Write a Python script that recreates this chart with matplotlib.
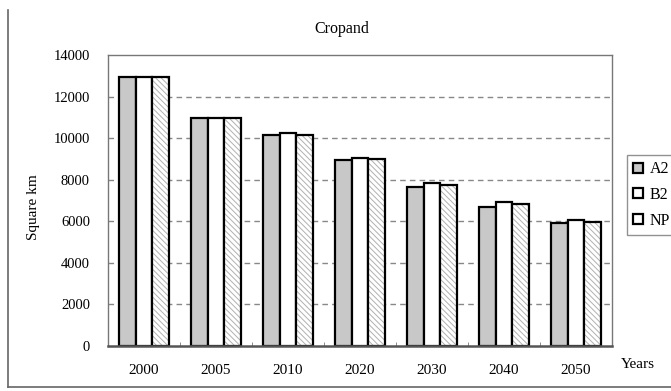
import numpy as np
import matplotlib.pyplot as plt
from matplotlib.lines import Line2D

# Data
years = ["2000", "2005", "2010", "2020", "2030", "2040", "2050"]
a2 = [12950, 10950, 10140, 8950, 7670, 6670, 5900]
b2 = [12950, 10950, 10230, 9060, 7860, 6930, 6060]
np_ = [12950, 10950, 10140, 9000, 7760, 6820, 5980]
series = ["A2", "B2", "NP"]

plt.rcParams["font.family"] = ["Liberation Serif", "DejaVu Serif"]
plt.rcParams["font.size"] = 11
plt.rcParams["hatch.linewidth"] = 0.7

W, H = 671, 391
fig = plt.figure(figsize=(W / 100, H / 100), dpi=100)
ax = fig.add_axes([108 / W, 1 - 346 / H, 504 / W, 291 / H])

x = np.arange(len(years))
w = 0.23
fills = ["#c8c8c8", "white", "white"]
hatch = "\\\\\\\\\\\\"
handles = []
for i, vals in enumerate([a2, b2, np_]):
    pos = x + (i - 1) * w
    if i == 2:
        # light grey hatch underneath, black outline on top
        ax.bar(pos, vals, width=w, facecolor="white", edgecolor="#b0b0b0",
               hatch=hatch, linewidth=0, zorder=3)
        bars = ax.bar(pos, vals, width=w, facecolor="none", edgecolor="black",
                      linewidth=1.6, zorder=4)
    else:
        bars = ax.bar(pos, vals, width=w, facecolor=fills[i], edgecolor="black",
                      linewidth=1.6, zorder=3)
    handles.append(bars)

# legend proxy for the hatched series
from matplotlib.patches import Patch
np_handle = Patch(facecolor="white", edgecolor="black", linewidth=1.6)
hatch_handle = Patch(facecolor="white", edgecolor="#b0b0b0", hatch=hatch, linewidth=0)
handles[2] = (hatch_handle, np_handle)

ax.set_xlim(-0.5, len(years) - 0.5)
ax.set_ylim(0, 14000)
ax.set_yticks(np.arange(0, 14001, 2000))
ax.tick_params(axis="y", length=0, pad=13, labelsize=10.5)
ax.set_xticks(x)
ax.set_xticklabels(years)
ax.set_xticks(np.arange(-0.5, len(years)), minor=True)
ax.tick_params(axis="x", which="major", length=0, pad=13, labelsize=11)
ax.tick_params(axis="x", which="minor", direction="in", length=3, color="#777777")

for yv in range(2000, 14000, 2000):
    ax.axhline(yv, color="#888888", linestyle=(0, (4, 3)), linewidth=1.0, zorder=1)

for s in ["top", "right", "left"]:
    ax.spines[s].set_color("#777777")
    ax.spines[s].set_linewidth(1.0)
ax.spines["bottom"].set_color("#555555")
ax.spines["bottom"].set_linewidth(1.8)
ax.spines["bottom"].set_zorder(5)

fig.text(33 / W, 1 - 207 / H, "Square km", ha="center", va="center",
         rotation=90, fontsize=11)
fig.text(342 / W, 1 - 29 / H, "Cropand", ha="center", va="center", fontsize=11.5)
fig.text(638 / W, 1 - 365 / H, "Years", ha="center", va="center", fontsize=11)

leg = fig.legend(handles=handles, labels=series, loc="upper left",
                 bbox_to_anchor=(627 / W, 1 - 155 / H), frameon=True,
                 fancybox=False, handlelength=0.6, handleheight=0.6,
                 handletextpad=0.4, labelspacing=0.6, borderpad=0.4,
                 borderaxespad=0, fontsize=11.5)
leg.get_frame().set_edgecolor("#777777")
leg.get_frame().set_linewidth(1.0)

# outer chart border (left and bottom visible)
fig.add_artist(Line2D([8 / W, 8 / W], [1 - 10 / H, 1 - 387 / H],
                      color="#666666", linewidth=1.2, transform=fig.transFigure))
fig.add_artist(Line2D([8 / W, 1], [1 - 387 / H, 1 - 387 / H],
                      color="#666666", linewidth=1.2, transform=fig.transFigure))

fig.savefig("out.png", dpi=100)
